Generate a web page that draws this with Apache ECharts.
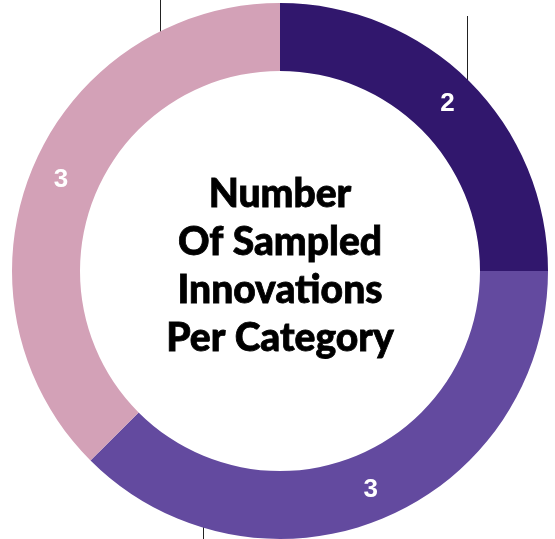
<!DOCTYPE html>
<html>
<head>
<meta charset="utf-8">
<script src="https://cdn.jsdelivr.net/npm/echarts@6/dist/echarts.min.js"></script>
<style>
  html, body { margin: 0; padding: 0; background: #fff; }
  #chart { width: 555px; height: 539px; }
</style>
</head>
<body>
<div id="chart"></div>
<script>
const categories = ['A', 'B', 'C'];
const counts = [2, 3, 3];
const colors = ['#31176d', '#634a9f', '#d3a1b7'];
const centerTitle = 'Number\nOf Sampled\nInnovations\nPer Category';

const chart = echarts.init(document.getElementById('chart'));

const pieData = categories.map((name, i) => ({
  name: name,
  value: counts[i],
  itemStyle: { color: colors[i] }
}));

// thin leader lines that run off the edge of the picture
const lineStyle = { stroke: '#222', lineWidth: 1 };

chart.setOption({
  animation: false,
  series: [{
    type: 'pie',
    center: [280, 271],
    radius: [200, 268],
    startAngle: 90,
    silent: true,
    label: {
      show: true,
      position: 'inside',
      formatter: '{c}',
      color: '#fff',
      fontSize: 26,
      fontWeight: 'bold',
      fontFamily: 'Liberation Sans, Arial, sans-serif'
    },
    labelLine: { show: false },
    itemStyle: { borderWidth: 0 },
    data: pieData
  }],
  graphic: [
    {
      type: 'text',
      x: 280,
      y: 266,
      style: {
        text: centerTitle,
        align: 'center',
        verticalAlign: 'middle',
        fill: '#000',
        font: '900 39px Lato, "Open Sans", sans-serif',
        lineHeight: 48,
        stroke: '#000',
        lineWidth: 0.8
      }
    },
    { type: 'line', shape: { x1: 160.5, y1: 0, x2: 160.5, y2: 52 }, style: lineStyle },
    { type: 'line', shape: { x1: 467.5, y1: 16, x2: 467.5, y2: 88 }, style: lineStyle },
    { type: 'line', shape: { x1: 203.5, y1: 505, x2: 203.5, y2: 539 }, style: lineStyle }
  ]
});
</script>
</body>
</html>
